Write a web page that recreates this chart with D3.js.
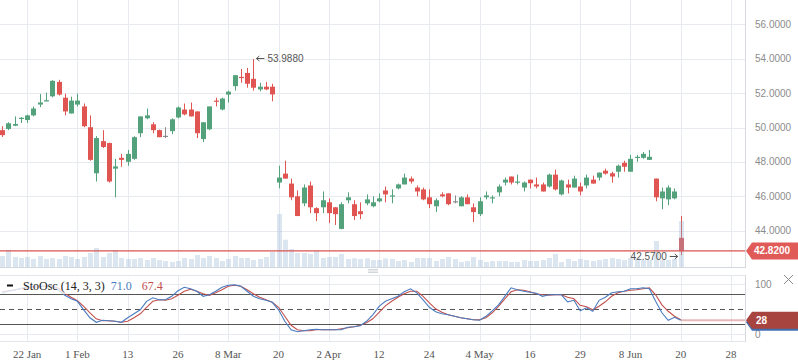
<!DOCTYPE html>
<html><head><meta charset="utf-8">
<script src="https://cdn.jsdelivr.net/npm/d3@7"></script>
<style>html,body{margin:0;padding:0;background:#fff;overflow:hidden}svg{display:block}</style>
</head><body>
<svg id="c" width="798" height="363"></svg>
<script>
// ---- data ----
const openP = [49.85,49.92,50.11,50.50,50.44,50.71,51.34,51.53,51.82,52.66,51.74,50.82,51.34,51.23,50.02,47.34,49.21,49.10,47.61,48.24,48.01,48.18,49.67,50.54,50.19,49.85,49.52,49.79,50.59,51.05,51.05,50.94,49.33,49.90,51.57,51.05,51.92,52.41,52.95,53.18,52.84,52.22,52.38,52.38,46.80,47.32,46.74,46.00,45.59,46.63,45.31,45.36,45.65,45.36,44.10,45.77,45.54,45.13,45.59,45.42,45.71,46.34,46.00,46.46,46.69,47.03,46.51,46.40,45.94,45.42,46.11,46.17,45.71,45.42,45.94,45.36,44.96,45.94,45.88,46.23,46.80,47.15,46.80,46.51,46.97,46.69,46.69,46.57,47.26,46.11,46.69,46.51,46.57,46.63,46.97,47.09,47.49,47.34,47.43,47.95,47.43,48.24,48.24,48.12,47.03,45.88,45.82,45.88,43.58];
const highP = [50.08,50.31,50.65,50.61,50.75,51.23,51.95,52.03,52.76,52.78,51.97,51.80,51.97,51.40,50.71,49.50,49.85,49.12,48.18,48.47,48.70,49.50,50.65,51.11,50.31,49.88,50.02,50.54,51.23,51.40,51.46,50.94,50.31,51.23,51.74,51.74,52.15,53.05,53.41,53.47,53.988,52.61,52.66,52.55,47.78,48.07,47.03,46.34,46.69,46.86,45.36,46.28,45.88,45.38,45.65,46.23,45.77,45.65,46.11,46.00,46.17,46.57,46.40,46.74,47.32,47.15,46.63,46.51,46.40,45.88,46.23,46.18,46.05,46.00,46.11,45.59,45.94,46.28,46.05,46.69,47.09,47.15,47.26,46.86,46.97,47.09,46.80,47.32,47.55,46.97,46.97,47.20,46.80,47.26,47.20,47.38,47.61,47.43,47.84,48.07,48.41,48.41,48.58,48.70,47.03,46.51,46.63,46.46,44.85];
const lowP = [49.45,49.85,50.08,50.27,50.27,50.65,51.19,51.53,51.76,51.86,50.71,50.82,51.23,50.02,48.07,46.86,48.81,46.80,45.94,47.72,47.78,48.12,49.44,50.48,49.67,49.44,49.39,49.62,50.54,50.71,50.65,49.39,49.16,49.85,51.23,51.00,51.46,52.15,52.61,52.32,52.15,52.11,52.18,51.53,46.46,47.03,45.77,44.85,45.42,45.02,44.56,45.02,44.44,44.33,44.08,45.59,44.62,44.67,45.48,45.36,45.65,45.65,45.59,46.40,46.69,46.74,46.00,45.77,45.31,45.08,45.94,45.48,45.59,45.42,45.54,44.50,44.85,45.82,45.59,46.00,46.63,46.69,46.69,46.28,46.46,46.46,46.28,46.51,46.34,46.05,46.17,46.51,46.05,46.46,46.74,46.92,47.26,46.80,47.09,47.43,47.43,48.01,48.18,48.12,45.71,45.25,45.48,45.82,42.57];
const closeP = [49.56,50.25,50.21,50.57,50.71,51.11,51.46,51.59,52.72,51.92,50.94,51.57,51.57,50.08,48.12,49.39,48.87,46.86,47.74,48.12,48.47,49.44,50.65,50.71,49.85,49.44,49.52,50.48,51.17,50.77,50.65,49.67,50.31,51.23,51.51,51.69,52.09,53.05,52.89,52.55,52.32,52.38,52.22,51.93,47.09,47.03,45.94,44.85,46.51,45.36,45.02,45.77,45.02,44.96,45.54,45.94,44.85,44.96,45.82,45.65,45.88,46.11,46.05,46.69,47.09,46.86,46.28,45.82,45.54,45.77,46.00,45.54,45.71,45.94,45.54,45.08,45.71,46.05,45.94,46.57,46.97,46.80,46.86,46.80,46.76,46.57,46.28,47.26,46.40,46.92,46.51,47.03,46.28,47.09,46.74,47.38,47.32,47.15,47.78,47.72,48.18,48.30,48.47,48.30,45.94,46.28,46.51,46.28,42.82];
const volume = [1170,1770,1070,970,1070,870,1170,870,970,870,1170,1070,870,1070,1470,1970,1070,1470,1770,970,870,870,970,770,970,770,670,570,670,970,870,1270,970,1170,970,670,870,1170,970,970,770,870,1070,1570,5370,2800,1870,1470,1470,1370,1670,970,1070,1070,1370,870,950,870,930,770,770,930,870,670,770,570,970,970,970,670,870,1070,870,570,670,1070,770,570,670,670,670,570,570,770,670,670,770,970,1370,570,870,670,870,770,670,770,870,970,870,770,970,970,770,770,2670,770,770,870,4670];
const stochK = [82,86,88,92,94,96,97,96,98,88,78,71,66,49,33,24,28,27,26,24,33,41,49,66,73,69,69,76,87,94,91,86,76,79,86,94,98,99,96,86,76,71,68,64,49,26,9,5,7,9,10,9,9,9,9,14,15,17,26,39,56,66,71,76,85,91,83,69,54,45,41,39,36,33,31,29,28,36,47,59,76,93,89,86,84,82,76,79,79,79,65,68,47,53,46,68,74,83,85,86,91,91,93,91,66,43,28,34,28];
const stochD = [85,87,89,91,92,94,95,96,97,92,82,74,67,56,43,31,27,27,26,24,26,33,41,54,66,69,68,71,78,86,90,86,81,78,83,89,96,98,96,89,81,74,69,64,54,36,18,9,7,7,9,9,9,9,11,13,15,18,23,31,44,57,66,74,81,86,86,76,63,51,44,39,36,33,31,29,29,33,43,56,71,85,89,88,85,81,79,78,79,79,74,71,58,55,49,56,65,76,83,86,88,89,91,93,79,59,46,36,29];
const tickIdx = [4,12,20,28,36,44,52,60,68,76,84,92,100,108,116];
const tickLabels = ["22 Jan","1 Feb","13","26","8 Mar","20","2 Apr","12","24","4 May","16","29","8 Jun","20","28"];
const priceTicks = [44,46,48,50,52,54,56];
const stochTicks = [0,100];
const stochLevels = [20,50,80];
const lastPrice = 42.82, highMark = 53.988, lowMark = 42.57, lastStoch = 28;

// ---- drawing ----
const svg = d3.select("#c");
const PW = 745;
const x = d3.scaleLinear().domain([-0.318, 118.22]).range([0, PW]);
const y = d3.scaleLinear().domain([41.826, 57.426]).range([268, 0]);
const yv = d3.scaleLinear().domain([0, 10000]).range([267.7, 167.7]);
const ys = d3.scaleLinear().domain([0, 100]).range([334.3, 284.3]);
const grid = "#e7ebf0";
const GREEN = "#53a27c", RED = "#e05552", GRAY = "#8a8a8a";
const data = openP.map((o,i)=>({i, o, h:highP[i], l:lowP[i], c:closeP[i], v:volume[i]}));
const col = d => d.c > d.o ? GREEN : (d.c < d.o ? RED : GRAY);
const px = i => Math.round(x(i));
const SANS = "Liberation Sans, Arial, sans-serif";

// grid
svg.append("g").selectAll("line").data(tickIdx).join("line")
  .attr("x1", d=>px(d)+0.5).attr("x2", d=>px(d)+0.5).attr("y1",0).attr("y2",268)
  .attr("stroke", grid);
svg.append("g").selectAll("line").data(priceTicks).join("line")
  .attr("x1",0).attr("x2",PW).attr("y1",d=>Math.round(y(d))+0.5).attr("y2",d=>Math.round(y(d))+0.5)
  .attr("stroke", grid);

// candles
const cg = svg.append("g");
cg.selectAll("line").data(data).join("line")
  .attr("x1",d=>px(d.i)+0.5).attr("x2",d=>px(d.i)+0.5)
  .attr("y1",d=>y(d.h)).attr("y2",d=>y(d.l)).attr("stroke",col).attr("stroke-width",1);
cg.selectAll("rect").data(data).join("rect")
  .attr("x",d=>px(d.i)-2).attr("width",5)
  .attr("y",d=>Math.min(y(d.o),y(d.c)))
  .attr("height",d=>Math.max(1.2, Math.abs(y(d.o)-y(d.c))))
  .attr("fill",col);

// volume
svg.append("g").selectAll("rect").data(data).join("rect")
  .attr("x",d=>px(d.i)-2).attr("width",5)
  .attr("y",d=>yv(d.v)).attr("height",d=>yv(0)-yv(d.v))
  .attr("fill","rgb(145,178,212)").attr("fill-opacity",0.32);

// main panel borders
svg.append("line").attr("x1",0).attr("x2",PW).attr("y1",267.5).attr("y2",267.5).attr("stroke","#d3d8de");
svg.append("line").attr("x1",PW+0.5).attr("x2",PW+0.5).attr("y1",0).attr("y2",268).attr("stroke","#d6dadf");

// last price line
svg.append("line").attr("x1",0).attr("x2",PW).attr("y1",y(lastPrice)).attr("y2",y(lastPrice))
  .attr("stroke","#d9534f").attr("stroke-width",1.2);

// annotations with arrows
function arrow(x1, x2, yy, dir) {
  svg.append("line").attr("x1",x1).attr("x2",x2).attr("y1",yy).attr("y2",yy).attr("stroke","#555").attr("stroke-width",1);
  const tip = dir < 0 ? x1 : x2;
  svg.append("path").attr("d",`M${tip - dir*3},${yy-2.5} L${tip},${yy} L${tip - dir*3},${yy+2.5}`)
    .attr("fill","none").attr("stroke","#555").attr("stroke-width",1);
}
const hy = Math.round(y(highMark)) - 0.5;
arrow(x(40)+3, x(40)+11, hy, -1);
svg.append("text").attr("x", x(40)+14).attr("y", hy+3.5)
  .attr("font-family",SANS).attr("font-size",10).attr("fill","#555")
  .text(highMark.toFixed(4));
const ly = Math.round(y(lowMark)) + 1.5;
arrow(x(108)-11, x(108)-3, ly, 1);
svg.append("text").attr("x", x(108)-14).attr("y", ly+3.5).attr("text-anchor","end")
  .attr("font-family",SANS).attr("font-size",10).attr("fill","#555")
  .text(lowMark.toFixed(4));

// right price axis labels
svg.append("g").selectAll("text").data(priceTicks).join("text")
  .attr("x",755).attr("y",d=>y(d)+3.5)
  .attr("font-family",SANS).attr("font-size",10).attr("fill","#8c8c8c")
  .text(d=>d.toFixed(4));

// price tag
const ty = y(lastPrice);
svg.append("path").attr("d",`M746,${ty} L752,${ty-8.5} L798,${ty-8.5} L798,${ty+8.5} L752,${ty+8.5} Z`).attr("fill","#e05a57");
svg.append("text").attr("x",772).attr("y",ty+3.5).attr("text-anchor","middle")
  .attr("font-family",SANS).attr("font-size",10).attr("font-weight","bold").attr("fill","#fff")
  .text(lastPrice.toFixed(4));

// panel handle
[269.5,271,272.5].forEach(yy=>svg.append("line").attr("x1",368).attr("x2",378).attr("y1",yy).attr("y2",yy).attr("stroke","#c8ccd0").attr("stroke-width",0.8));

// ---- stochastic panel ----
svg.append("g").selectAll("line").data(tickIdx).join("line")
  .attr("x1", d=>px(d)+0.5).attr("x2", d=>px(d)+0.5).attr("y1",275).attr("y2",342)
  .attr("stroke", grid);
svg.append("g").selectAll("line").data(stochTicks).join("line")
  .attr("x1",0).attr("x2",PW).attr("y1",d=>Math.round(ys(d))+0.5).attr("y2",d=>Math.round(ys(d))+0.5)
  .attr("stroke", grid);
svg.append("line").attr("x1",0).attr("x2",PW).attr("y1",275.5).attr("y2",275.5).attr("stroke","#e3e7eb");
svg.append("line").attr("x1",0).attr("x2",PW).attr("y1",341.5).attr("y2",341.5).attr("stroke","#e3e7eb");
svg.append("line").attr("x1",PW+0.5).attr("x2",PW+0.5).attr("y1",275).attr("y2",342).attr("stroke","#d6dadf");
svg.append("g").selectAll("line").data(stochLevels).join("line")
  .attr("x1",0).attr("x2",PW).attr("y1",d=>Math.round(ys(d))+0.5).attr("y2",d=>Math.round(ys(d))+0.5)
  .attr("stroke","#555").attr("stroke-width",1).attr("stroke-dasharray",d=>d===50?"5,4":null);

const lineK = d3.line().x((d,i)=>x(i)).y(d=>ys(d));
svg.append("line").attr("x1",x(108)).attr("x2",PW).attr("y1",ys(lastStoch)).attr("y2",ys(lastStoch))
  .attr("stroke","#d98a8a").attr("stroke-opacity",0.6).attr("stroke-width",2);
svg.append("path").attr("d",lineK(stochD)).attr("fill","none").attr("stroke","#c2504c").attr("stroke-width",1.1);
svg.append("path").attr("d",lineK(stochK)).attr("fill","none").attr("stroke","#4a7cc0").attr("stroke-width",1.1);

// legend box
svg.append("rect").attr("x",0).attr("y",276).attr("width",161).attr("height",18).attr("fill","#fff").attr("fill-opacity",0.78);
svg.append("line").attr("x1",7).attr("x2",13).attr("y1",285.5).attr("y2",285.5).attr("stroke","#111").attr("stroke-width",2);
const lg = svg.append("text").attr("x",23).attr("y",289.5)
  .attr("font-family","Liberation Serif, Times New Roman, serif").attr("font-size",12);
lg.append("tspan").attr("fill","#222").text("StoOsc (14, 3, 3)");
lg.append("tspan").attr("fill","#4a7cc0").attr("dx",6).text("71.0");
lg.append("tspan").attr("fill","#c0504d").attr("dx",10).text("67.4");

// stoch axis labels
svg.append("g").selectAll("text").data(stochTicks).join("text")
  .attr("x",755).attr("y",d=>ys(d)+3.5)
  .attr("font-family",SANS).attr("font-size",10).attr("fill","#8c8c8c")
  .text(d=>d);

// close icon
svg.append("path").attr("d","M784,275 L793,284 M793,275 L784,284").attr("stroke","#888").attr("stroke-width",1);

// stoch tags
const sy = ys(lastStoch);
svg.append("path").attr("d",`M746,${sy+2} L752,${sy-6.5} L798,${sy-6.5} L798,${sy+10.5} L752,${sy+10.5} Z`).attr("fill","#3f6fb0");
svg.append("path").attr("d",`M746,${sy} L752,${sy-8.5} L798,${sy-8.5} L798,${sy+8.5} L752,${sy+8.5} Z`).attr("fill","#a8443f");
svg.append("text").attr("x",756).attr("y",sy+4)
  .attr("font-family",SANS).attr("font-size",10).attr("font-weight","bold").attr("fill","#fff")
  .text(lastStoch);

// x axis labels
svg.append("g").selectAll("text").data(tickIdx).join("text")
  .attr("x",d=>x(d)).attr("y",358).attr("text-anchor","middle")
  .attr("font-family","Liberation Serif, Times New Roman, serif").attr("font-size",11).attr("fill","#555")
  .text((d,i)=>tickLabels[i]);
</script>
</body></html>
